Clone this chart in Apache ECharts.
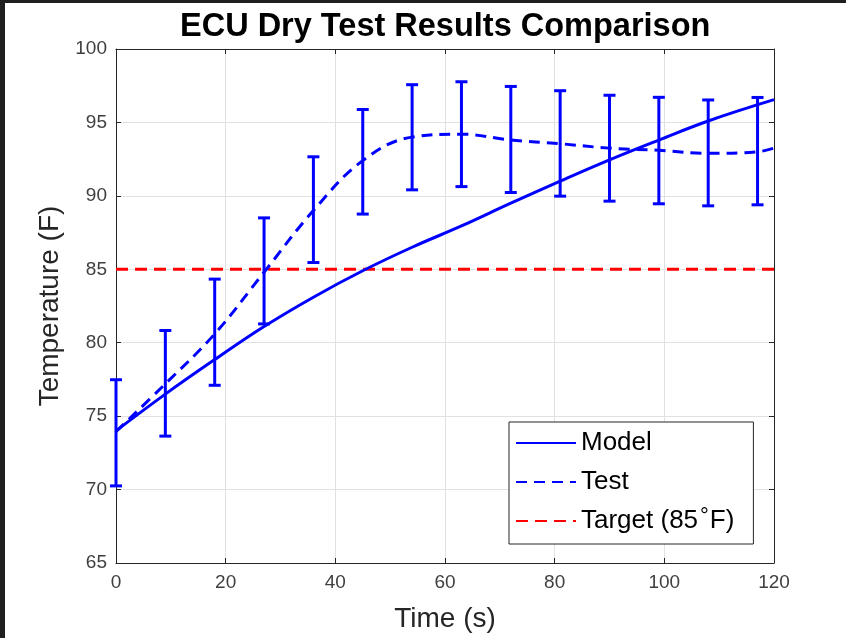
<!DOCTYPE html>
<html>
<head>
<meta charset="utf-8">
<script src="https://cdn.jsdelivr.net/npm/echarts@6/dist/echarts.min.js"></script>
<style>
html,body{margin:0;padding:0;background:#fff;}
#chart{width:846px;height:638px;}
</style>
</head>
<body>
<div id="chart"></div>
<script>
// ---- data ----
const modelTimes  = [0, 9, 18, 27, 36, 45, 54, 63, 72, 81, 90, 99, 108, 120];
const modelValues = [74.0, 76.5, 78.85, 81.1, 83.1, 84.9, 86.5, 87.95, 89.5, 91.0, 92.45, 93.8, 95.1, 96.55];

const testTimes  = [0, 9, 18, 27, 36, 45, 54, 63, 72, 81, 90, 99, 108, 117, 120];
const testValues = [73.95, 77.2, 80.6, 84.8, 89.0, 92.4, 94.0, 94.2, 93.8, 93.55, 93.25, 93.1, 92.9, 93.0, 93.25];

const errTimes = [0, 9, 18, 27, 36, 45, 54, 63, 72, 81, 90, 99, 108, 117];
const errLow   = [70.25, 73.64, 77.1, 81.28, 85.46, 88.76, 90.41, 90.63, 90.23, 89.98, 89.64, 89.46, 89.32, 89.39];
const errHigh  = [77.48, 80.83, 84.33, 88.5, 92.66, 95.88, 97.57, 97.77, 97.45, 97.16, 96.85, 96.71, 96.53, 96.7];

const targetTimes  = [0, 120];
const targetValues = [85, 85];

const xTicks = [0, 20, 40, 60, 80, 100, 120];
const yTicks = [65, 70, 75, 80, 85, 90, 95, 100];

const titleText = 'ECU Dry Test Results Comparison';
const xName = 'Time (s)';
const yName = 'Temperature (F)';
const legendNames = ['Model', 'Test', 'Target (85°F)'];

// ---- build ----
const zip = (a, b) => a.map((v, i) => [v, b[i]]);
const FONT = '"Liberation Sans", Arial, Helvetica, sans-serif';
const BLUE = '#0000ff';
const RED = '#ff0000';
const AX = '#262626';

const chart = echarts.init(document.getElementById('chart'), null, {renderer: 'canvas'});

const commonX = {
  type: 'value', min: xTicks[0], max: xTicks[xTicks.length - 1], interval: 20
};
const commonY = {
  type: 'value', min: yTicks[0], max: yTicks[yTicks.length - 1], interval: 5
};

chart.setOption({
  animation: false,
  backgroundColor: '#ffffff',
  textStyle: {fontFamily: FONT},
  title: {
    text: titleText,
    left: 180,
    top: 11,
    padding: 0,
    textStyle: {fontFamily: FONT, fontSize: 32.5, fontWeight: 'bold', color: '#000'}
  },
  graphic: [
    {type: 'rect', left: 0, top: 0, shape: {width: 5, height: 638}, style: {fill: '#1f1f1f'}, silent: true, z: 100},
    {type: 'rect', left: 0, top: 0, shape: {width: 846, height: 3}, style: {fill: '#1f1f1f'}, silent: true, z: 100}
  ],
  grid: {left: 116, right: 72, top: 49, bottom: 73, containLabel: false},
  legend: {
    data: legendNames,
    orient: 'vertical',
    left: 509,
    top: 422,
    itemWidth: 60,
    itemHeight: 14,
    itemGap: 9,
    padding: [6, 19, 8, 6],
    backgroundColor: '#ffffff',
    borderColor: AX,
    borderWidth: 1,
    borderRadius: 0,
    selectedMode: false,
    itemStyle: {opacity: 0},
    formatter: function (name) {
      if (name === legendNames[2]) return 'Target (85{sup|°}F)';
      return name;
    },
    textStyle: {
      fontFamily: FONT, fontSize: 26, color: '#000', lineHeight: 30,
      rich: {
        sup: {fontFamily: FONT, fontSize: 22, color: '#000', verticalAlign: 'top', lineHeight: 22, padding: [0, 1, 0, 2]}
      }
    },
    z: 10
  },
  xAxis: [
    Object.assign({}, commonX, {
      position: 'bottom',
      name: xName,
      nameLocation: 'middle',
      nameGap: 42,
      nameTextStyle: {fontFamily: FONT, fontSize: 28, color: AX},
      axisLine: {show: true, onZero: false, lineStyle: {color: AX, width: 1}},
      axisTick: {show: true, inside: true, length: 5, lineStyle: {color: AX}},
      axisLabel: {fontFamily: FONT, fontSize: 19, color: '#404040', margin: 10},
      splitLine: {show: true, lineStyle: {color: '#e1e1e1', width: 1}}
    }),
    Object.assign({}, commonX, {
      position: 'top',
      axisLine: {show: true, onZero: false, lineStyle: {color: AX, width: 1}},
      axisTick: {show: true, inside: true, length: 5, lineStyle: {color: AX}},
      axisLabel: {show: false},
      splitLine: {show: false}
    })
  ],
  yAxis: [
    Object.assign({}, commonY, {
      position: 'left',
      name: yName,
      nameLocation: 'middle',
      nameGap: 50,
      nameTextStyle: {fontFamily: FONT, fontSize: 28, color: AX},
      axisLine: {show: true, onZero: false, lineStyle: {color: AX, width: 1}},
      axisTick: {show: true, inside: true, length: 5, lineStyle: {color: AX}},
      axisLabel: {fontFamily: FONT, fontSize: 19, color: '#404040', margin: 9},
      splitLine: {show: true, lineStyle: {color: '#e1e1e1', width: 1}}
    }),
    Object.assign({}, commonY, {
      position: 'right',
      axisLine: {show: true, onZero: false, lineStyle: {color: AX, width: 1}},
      axisTick: {show: true, inside: true, length: 5, lineStyle: {color: AX}},
      axisLabel: {show: false},
      splitLine: {show: false}
    })
  ],
  series: [
    {
      name: legendNames[0],
      type: 'line',
      data: zip(modelTimes, modelValues),
      smooth: 0.4,
      symbol: 'none',
      showSymbol: false,
      lineStyle: {color: BLUE, width: 3, type: 'solid'},
      itemStyle: {color: BLUE},
      z: 3
    },
    {
      name: legendNames[1],
      type: 'line',
      data: zip(testTimes, testValues),
      smooth: 0.4,
      symbol: 'none',
      showSymbol: false,
      lineStyle: {color: BLUE, width: 3, type: [11, 7]},
      itemStyle: {color: BLUE},
      z: 3
    },
    {
      name: legendNames[2],
      type: 'line',
      data: zip(targetTimes, targetValues),
      symbol: 'none',
      showSymbol: false,
      lineStyle: {color: RED, width: 3, type: [12, 7]},
      itemStyle: {color: RED},
      z: 2
    },
    {
      name: 'errorbars',
      type: 'custom',
      data: errTimes.map((t, i) => [t, errLow[i], errHigh[i]]),
      encode: {x: 0, y: [1, 2]},
      clip: false,
      z: 4,
      renderItem: function (params, api) {
        const t = api.value(0);
        const lo = api.coord([t, api.value(1)]);
        const hi = api.coord([t, api.value(2)]);
        const hw = 6;
        const style = {stroke: BLUE, lineWidth: 3, fill: null};
        return {
          type: 'group',
          children: [
            {type: 'line', shape: {x1: lo[0], y1: lo[1], x2: hi[0], y2: hi[1]}, style: style},
            {type: 'line', shape: {x1: lo[0] - hw, y1: lo[1], x2: lo[0] + hw, y2: lo[1]}, style: style},
            {type: 'line', shape: {x1: hi[0] - hw, y1: hi[1], x2: hi[0] + hw, y2: hi[1]}, style: style}
          ]
        };
      }
    }
  ]
});
</script>
</body>
</html>
